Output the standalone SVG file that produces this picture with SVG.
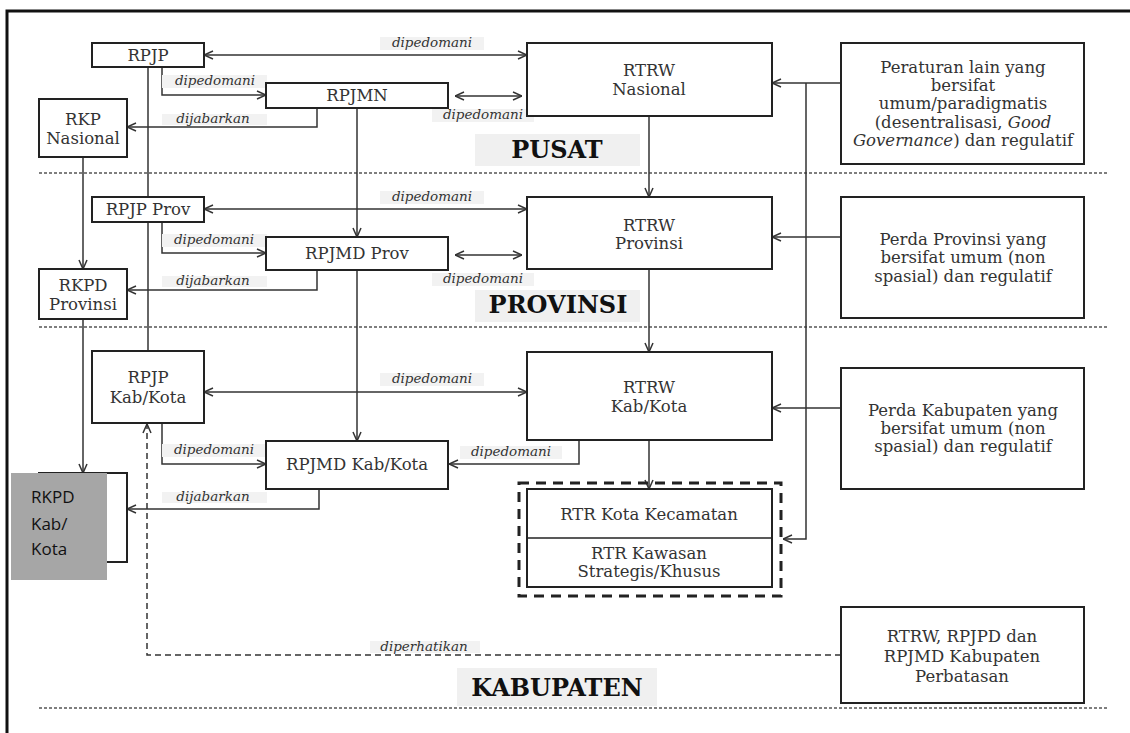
<svg xmlns="http://www.w3.org/2000/svg" width="1130" height="733" viewBox="0 0 1130 733">
<style>
.box{fill:#fff;stroke:#222;stroke-width:2}
.t{font-family:"DejaVu Serif","Liberation Serif",serif;font-size:16.5px;fill:#333;text-anchor:middle}
.lbl{font-family:"DejaVu Serif","Liberation Serif",serif;font-size:13.5px;font-style:italic;fill:#333;text-anchor:middle}
.lbg{fill:#f2f2f2}
.sec{font-family:"DejaVu Serif","Liberation Serif",serif;font-size:24px;font-weight:bold;fill:#111;text-anchor:middle}
.secbg{fill:#f0f0f0}
.c{fill:none;stroke:#333;stroke-width:1.5}
.div{fill:none;stroke:#555;stroke-width:1.3;stroke-dasharray:3 2}
</style>
<defs>
<marker id="ah" viewBox="0 0 10 10" refX="10" refY="5" markerWidth="10" markerHeight="10" markerUnits="userSpaceOnUse" orient="auto-start-reverse">
<path d="M1,1 L10,5 L1,9" fill="none" stroke="#333" stroke-width="1.5"/>
</marker>
</defs>
<rect width="1130" height="733" fill="#fff"/>
<path d="M7,733 V11 H1130" fill="none" stroke="#111" stroke-width="3"/>
<g id="dividers">
<line class="div" x1="39" y1="173" x2="1107" y2="173"/>
<line class="div" x1="39" y1="327" x2="1107" y2="327"/>
<line class="div" x1="39" y1="708" x2="1107" y2="708"/>
</g>
<g id="sections">
<rect class="secbg" x="475" y="134" width="165" height="32"/>
<text class="sec" x="557" y="158">PUSAT</text>
<rect class="secbg" x="475" y="290" width="165" height="32"/>
<text class="sec" x="558" y="313">PROVINSI</text>
<rect class="secbg" x="457" y="668" width="200" height="38"/>
<text class="sec" x="557" y="696">KABUPATEN</text>
</g>
<g id="connectors">
<path class="c" d="M204,55 H527" marker-start="url(#ah)" marker-end="url(#ah)"/>
<path class="c" d="M162,67 V95 H266" marker-end="url(#ah)"/>
<path class="c" d="M317,108 V127 H127" marker-end="url(#ah)"/>
<path class="c" d="M455,96 H522" marker-start="url(#ah)" marker-end="url(#ah)"/>
<path class="c" d="M148,67 V197"/>
<path class="c" d="M83,157 V269" marker-end="url(#ah)"/>
<path class="c" d="M357,108 V237" marker-end="url(#ah)"/>
<path class="c" d="M649,116 V197" marker-end="url(#ah)"/>
<path class="c" d="M841,83 H772" marker-end="url(#ah)"/>
<path class="c" d="M806,83 V539 H783" marker-end="url(#ah)"/>
<path class="c" d="M204,209 H527" marker-start="url(#ah)" marker-end="url(#ah)"/>
<path class="c" d="M162,222 V253 H266" marker-end="url(#ah)"/>
<path class="c" d="M317,270 V290 H127" marker-end="url(#ah)"/>
<path class="c" d="M455,255 H522" marker-start="url(#ah)" marker-end="url(#ah)"/>
<path class="c" d="M841,237 H772" marker-end="url(#ah)"/>
<path class="c" d="M148,222 V351"/>
<path class="c" d="M83,319 V473" marker-end="url(#ah)"/>
<path class="c" d="M357,270 V441" marker-end="url(#ah)"/>
<path class="c" d="M649,269 V352" marker-end="url(#ah)"/>
<path class="c" d="M204,392 H527" marker-start="url(#ah)" marker-end="url(#ah)"/>
<path class="c" d="M162,423 V464 H266" marker-end="url(#ah)"/>
<path class="c" d="M319,489 V509 H127" marker-end="url(#ah)"/>
<path class="c" d="M579,440 V464 H449" marker-end="url(#ah)"/>
<path class="c" d="M649,440 V489" marker-end="url(#ah)"/>
<path class="c" d="M841,408 H772" marker-end="url(#ah)"/>
<path class="c" d="M841,655 H147 V424" stroke-dasharray="6 4" marker-end="url(#ah)"/>
</g>
<g id="labels">
<rect class="lbg" x="380" y="37" width="104" height="13"/><text class="lbl" x="432" y="47">dipedomani</text>
<rect class="lbg" x="162" y="75" width="105" height="13"/><text class="lbl" x="215" y="85">dipedomani</text>
<rect class="lbg" x="162" y="114" width="105" height="11"/><text class="lbl" x="213" y="123">dijabarkan</text>
<rect class="lbg" x="432" y="109" width="102" height="13"/><text class="lbl" x="483" y="119">dipedomani</text>
<rect class="lbg" x="380" y="191" width="104" height="13"/><text class="lbl" x="432" y="201">dipedomani</text>
<rect class="lbg" x="162" y="234" width="105" height="13"/><text class="lbl" x="214" y="244">dipedomani</text>
<rect class="lbg" x="162" y="276" width="105" height="11"/><text class="lbl" x="213" y="285">dijabarkan</text>
<rect class="lbg" x="432" y="273" width="102" height="13"/><text class="lbl" x="483" y="283">dipedomani</text>
<rect class="lbg" x="380" y="373" width="104" height="13"/><text class="lbl" x="432" y="383">dipedomani</text>
<rect class="lbg" x="162" y="444" width="105" height="13"/><text class="lbl" x="214" y="454">dipedomani</text>
<rect class="lbg" x="162" y="492" width="105" height="11"/><text class="lbl" x="213" y="501">dijabarkan</text>
<rect class="lbg" x="460" y="446" width="102" height="13"/><text class="lbl" x="511" y="456">dipedomani</text>
<rect class="lbg" x="370" y="641" width="110" height="12"/><text class="lbl" x="424" y="651">diperhatikan</text>
</g>
<g id="rpjp"><rect class="box" x="92" y="43" width="112" height="24"/><text class="t" x="148" y="61">RPJP</text></g>
<g id="rpjmn"><rect class="box" x="266" y="83" width="182" height="25"/><text class="t" x="357" y="101">RPJMN</text></g>
<g id="rkp-nasional"><rect class="box" x="39" y="99" width="88" height="58"/><text class="t" x="83" y="125">RKP</text><text class="t" x="83" y="144">Nasional</text></g>
<g id="rtrw-nasional"><rect class="box" x="527" y="43" width="245" height="73"/><text class="t" x="649" y="76">RTRW</text><text class="t" x="649" y="95">Nasional</text></g>
<g id="peraturan"><rect class="box" x="841" y="43" width="243" height="121"/>
<text class="t" x="963" y="73">Peraturan lain yang</text>
<text class="t" x="963" y="91">bersifat</text>
<text class="t" x="963" y="109">umum/paradigmatis</text>
<text class="t" x="963" y="128">(desentralisasi, <tspan font-style="italic">Good</tspan></text>
<text class="t" x="963" y="146"><tspan font-style="italic">Governance</tspan>) dan regulatif</text></g>
<g id="rpjp-prov"><rect class="box" x="92" y="197" width="112" height="25"/><text class="t" x="148" y="215">RPJP Prov</text></g>
<g id="rpjmd-prov"><rect class="box" x="266" y="237" width="182" height="33"/><text class="t" x="357" y="259">RPJMD Prov</text></g>
<g id="rkpd-provinsi"><rect class="box" x="39" y="269" width="88" height="50"/><text class="t" x="83" y="291" font-size="15.5">RKPD</text><text class="t" x="83" y="310" font-size="15.5">Provinsi</text></g>
<g id="rtrw-provinsi"><rect class="box" x="527" y="197" width="245" height="72"/><text class="t" x="649" y="231">RTRW</text><text class="t" x="649" y="249">Provinsi</text></g>
<g id="perda-provinsi"><rect class="box" x="841" y="197" width="243" height="121"/>
<text class="t" x="963" y="245">Perda Provinsi yang</text>
<text class="t" x="963" y="263">bersifat umum (non</text>
<text class="t" x="963" y="282">spasial) dan regulatif</text></g>
<g id="rpjp-kab"><rect class="box" x="92" y="351" width="112" height="72"/><text class="t" x="148" y="383">RPJP</text><text class="t" x="148" y="403">Kab/Kota</text></g>
<g id="rpjmd-kab"><rect class="box" x="266" y="441" width="182" height="48"/><text class="t" x="357" y="470">RPJMD Kab/Kota</text></g>
<g id="rkpd-kab"><rect class="box" x="39" y="473" width="88" height="89"/>
<rect x="11" y="473" width="96" height="107" fill="#a6a6a6"/>
<text font-family="Open Sans, Lato, sans-serif" font-size="17" fill="#111" x="31" y="503">RKPD</text>
<text font-family="Open Sans, Lato, sans-serif" font-size="17" fill="#111" x="31" y="530">Kab/</text>
<text font-family="Open Sans, Lato, sans-serif" font-size="17" fill="#111" x="31" y="555">Kota</text></g>
<g id="rtrw-kab"><rect class="box" x="527" y="352" width="245" height="88"/><text class="t" x="649" y="393">RTRW</text><text class="t" x="649" y="412">Kab/Kota</text></g>
<g id="perda-kab"><rect class="box" x="841" y="368" width="243" height="121"/>
<text class="t" x="963" y="416">Perda Kabupaten yang</text>
<text class="t" x="963" y="434">bersifat umum (non</text>
<text class="t" x="963" y="452">spasial) dan regulatif</text></g>
<g id="rtr-group"><rect x="519" y="483" width="262" height="113" fill="none" stroke="#222" stroke-width="3" stroke-dasharray="10 7"/>
<rect class="box" x="527" y="489" width="245" height="98"/>
<line x1="527" y1="538" x2="772" y2="538" stroke="#222" stroke-width="1.5"/>
<text class="t" x="649" y="520">RTR Kota Kecamatan</text>
<text class="t" x="649" y="559">RTR Kawasan</text>
<text class="t" x="649" y="577">Strategis/Khusus</text></g>
<g id="rtrw-perbatasan"><rect class="box" x="841" y="607" width="243" height="96"/>
<text class="t" x="962" y="642">RTRW, RPJPD dan</text>
<text class="t" x="962" y="662">RPJMD Kabupaten</text>
<text class="t" x="962" y="682">Perbatasan</text></g>
</svg>
